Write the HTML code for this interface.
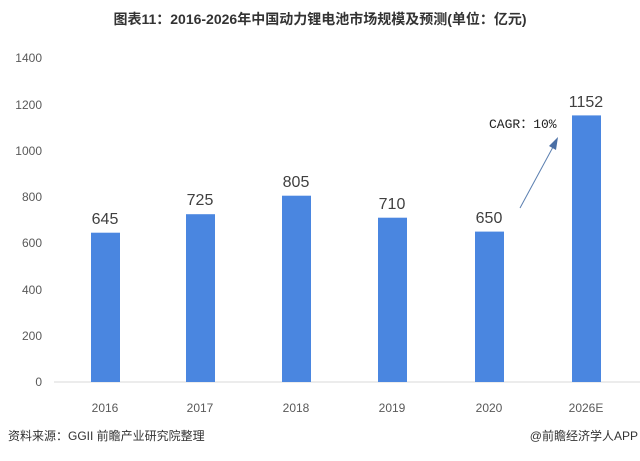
<!DOCTYPE html><html><head><meta charset="utf-8"><style>
body{margin:0;width:640px;height:456px;background:#fff;overflow:hidden;font-family:"Liberation Sans","Noto Sans CJK SC",sans-serif;}
</style></head><body>
<svg width="640" height="456" xmlns="http://www.w3.org/2000/svg" font-family="Liberation Sans, Noto Sans CJK SC, sans-serif">
<text x="320" y="24" text-anchor="middle" font-size="14" font-weight="bold" fill="#333">图表11：2016-2026年中国动力锂电池市场规模及预测(单位：亿元)</text>
<g font-size="12" fill="#595959" text-anchor="end">
<text x="42" y="386">0</text><text x="42" y="340">200</text><text x="42" y="294">400</text><text x="42" y="247">600</text><text x="42" y="201">800</text><text x="42" y="155">1000</text><text x="42" y="109">1200</text><text x="42" y="62">1400</text>
</g>
<line x1="54" y1="382" x2="640" y2="382" stroke="#d9d9d9"/>
<g fill="#4a86e0">
<rect x="91" y="232.7" width="29" height="149.3"/>
<rect x="186" y="214.2" width="29" height="167.8"/>
<rect x="282" y="195.7" width="29" height="186.3"/>
<rect x="378" y="217.7" width="29" height="164.3"/>
<rect x="475" y="231.6" width="29" height="150.4"/>
<rect x="572" y="115.4" width="29" height="266.6"/>
</g>
<g font-size="16" fill="#404040" text-anchor="middle">
<text x="105" y="224">645</text><text x="200" y="205">725</text><text x="296" y="187">805</text><text x="392" y="209">710</text><text x="489" y="223">650</text><text x="586" y="107">1152</text>
</g>
<g font-size="12" fill="#595959" text-anchor="middle">
<text x="105" y="412">2016</text><text x="200" y="412">2017</text><text x="296" y="412">2018</text><text x="392" y="412">2019</text><text x="489" y="412">2020</text><text x="586" y="412">2026E</text>
</g>
<text x="489" y="128" font-size="13" fill="#222" font-family="Liberation Mono, Noto Sans CJK SC, monospace">CAGR：10%</text>
<line x1="520" y1="208" x2="553" y2="147" stroke="#5b7fb0" stroke-width="1"/>
<polygon points="558,137 549,146 556,150" fill="#4a6fa5"/>
<text x="8" y="440" font-size="12" fill="#333">资料来源：GGII 前瞻产业研究院整理</text>
<text x="638" y="440" font-size="12" fill="#333" text-anchor="end">@前瞻经济学人APP</text>
</svg>
</body></html>
